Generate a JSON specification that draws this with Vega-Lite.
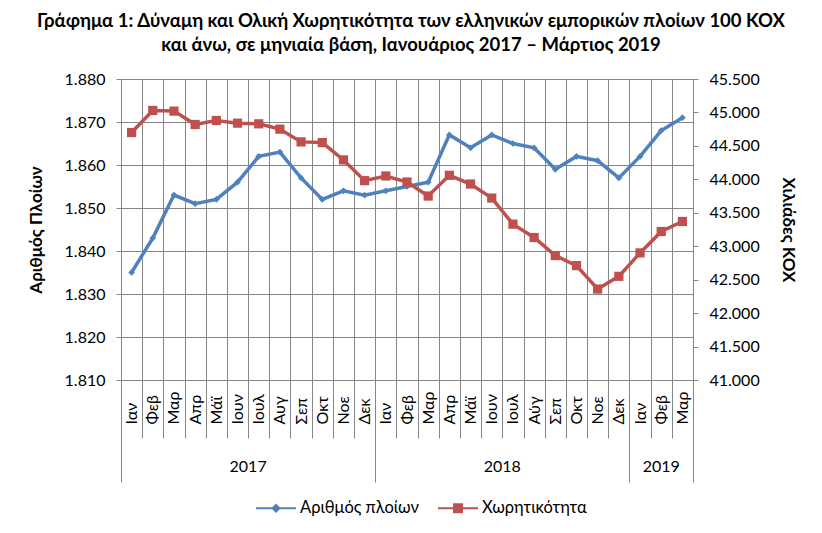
{
  "$schema": "https://vega.github.io/schema/vega-lite/v6.json",
  "width": 572,
  "height": 301,
  "autosize": {"type": "none"},
  "padding": {"left": 121, "top": 79, "right": 129, "bottom": 153},
  "background": "white",
  "title": {
    "text": ["Γράφημα 1: Δύναμη και Ολική Χωρητικότητα των ελληνικών εμπορικών πλοίων 100 ΚΟΧ", "και άνω, σε μηνιαία βάση, Ιανουάριος 2017 – Μάρτιος  2019"],
    "font": "Lato", "fontSize": 18.5, "fontWeight": "bold", "anchor": "middle", "offset": 17, "lineHeight": 24, "color": "black", "dx": 4
  },
  "data": {"values": [
    {"m": "2017 Ιαν", "ships": 1835, "tonnage": 44700},
    {"m": "2017 Φεβ", "ships": 1843, "tonnage": 45030},
    {"m": "2017 Μαρ", "ships": 1853, "tonnage": 45020},
    {"m": "2017 Απρ", "ships": 1851, "tonnage": 44820},
    {"m": "2017 Μάϊ", "ships": 1852, "tonnage": 44880},
    {"m": "2017 Ιουν", "ships": 1856, "tonnage": 44840},
    {"m": "2017 Ιουλ", "ships": 1862, "tonnage": 44830},
    {"m": "2017 Αυγ", "ships": 1863, "tonnage": 44750},
    {"m": "2017 Σεπ", "ships": 1857, "tonnage": 44560},
    {"m": "2017 Οκτ", "ships": 1852, "tonnage": 44550},
    {"m": "2017 Νοε", "ships": 1854, "tonnage": 44290},
    {"m": "2017 Δεκ", "ships": 1853, "tonnage": 43980},
    {"m": "2018 Ιαν", "ships": 1854, "tonnage": 44050},
    {"m": "2018 Φεβ", "ships": 1855, "tonnage": 43960},
    {"m": "2018 Μαρ", "ships": 1856, "tonnage": 43750},
    {"m": "2018 Απρ", "ships": 1867, "tonnage": 44060},
    {"m": "2018 Μάϊ", "ships": 1864, "tonnage": 43930},
    {"m": "2018 Ιουν", "ships": 1867, "tonnage": 43720},
    {"m": "2018 Ιουλ", "ships": 1865, "tonnage": 43330},
    {"m": "2018 Αύγ", "ships": 1864, "tonnage": 43130},
    {"m": "2018 Σεπ", "ships": 1859, "tonnage": 42860},
    {"m": "2018 Οκτ", "ships": 1862, "tonnage": 42710},
    {"m": "2018 Νοε", "ships": 1861, "tonnage": 42360},
    {"m": "2018 Δεκ", "ships": 1857, "tonnage": 42550},
    {"m": "2019 Ιαν", "ships": 1862, "tonnage": 42900},
    {"m": "2019 Φεβ", "ships": 1868, "tonnage": 43220},
    {"m": "2019 Μαρ", "ships": 1871, "tonnage": 43370}
  ]},
  "layer": [
    {
      "mark": {"type": "line", "strokeWidth": 3.5, "point": {"shape": "diamond", "size": 45, "filled": true}},
      "encoding": {
        "x": {"field": "m", "type": "ordinal", "sort": null,
          "scale": {"type": "band", "paddingInner": 0, "paddingOuter": 0},
          "axis": {"orient": "bottom", "title": null, "tickBand": "extent", "tickSize": 58, "tickColor": "#868686",
            "domainColor": "#868686", "grid": true, "gridColor": "#868686", "gridOpacity": 1,
            "labelAngle": 270, "labelAlign": "left", "labelBaseline": "middle", "labelPadding": -14,
            "labelExpr": "split(datum.value, ' ')[1]", "labelFont": "Lato", "labelFontSize": 16,
            "labelColor": "black", "labelOverlap": false, "labelFlush": false}},
        "y": {"field": "ships", "type": "quantitative",
          "scale": {"domain": [1810, 1880], "zero": false, "nice": false},
          "axis": {"orient": "left", "values": [1810, 1820, 1830, 1840, 1850, 1860, 1870, 1880],
            "labelExpr": "replace(format(datum.value, ','), ',', '.')",
            "title": "Αριθμός Πλοίων", "titleFont": "Lato", "titleFontSize": 17, "titleFontWeight": "bold", "titleColor": "black",
            "titlePadding": 19, "labelPadding": 11, "tickSize": 5, "tickColor": "#868686", "domainColor": "#868686",
            "grid": true, "gridColor": "#868686", "gridOpacity": 1, "labelFont": "Lato", "labelFontSize": 16, "labelColor": "black"}},
        "color": {"datum": "Αριθμός πλοίων",
          "scale": {"domain": ["Αριθμός πλοίων", "Χωρητικότητα"], "range": ["#4F81BD", "#C0504D"]},
          "legend": {"orient": "none", "legendX": 134, "legendY": 408, "direction": "horizontal", "title": null, "labelFont": "Lato", "labelFontSize": 16.5,
            "labelColor": "black", "symbolSize": 1600, "symbolStrokeWidth": 2, "columnPadding": 14, "labelOffset": 3,
            "encode": {"symbols": {"update": {
              "shape": {"signal": "datum.value === 'Χωρητικότητα' ? 'M-1,0H1M-0.2,-0.2H0.2V0.2H-0.2Z' : 'M-1,0H1M0,-0.17L0.17,0L0,0.17L-0.17,0Z'"},
              "fill": {"signal": "datum.value === 'Χωρητικότητα' ? '#C0504D' : '#4F81BD'"},
              "stroke": {"signal": "datum.value === 'Χωρητικότητα' ? '#C0504D' : '#4F81BD'"}}}}}}
      }
    },
    {
      "mark": {"type": "line", "strokeWidth": 3.5, "point": {"shape": "square", "size": 85, "filled": true}},
      "encoding": {
        "x": {"field": "m", "type": "ordinal", "sort": null,
          "scale": {"type": "band", "paddingInner": 0, "paddingOuter": 0},
          "axis": {"orient": "bottom", "title": null, "tickBand": "extent",
            "values": ["2017 Ιαν", "2017 Δεκ", "2018 Δεκ", "2019 Μαρ"],
            "tickSize": 102, "tickColor": "#868686",
            "tickOpacity": {"condition": {"test": "datum.value === '2017 Ιαν'", "value": 0}, "value": 1},
            "labels": false, "domain": false, "grid": false}},
        "y": {"field": "tonnage", "type": "quantitative",
          "scale": {"domain": [41000, 45500], "zero": false, "nice": false},
          "axis": {"orient": "right", "values": [41000, 41500, 42000, 42500, 43000, 43500, 44000, 44500, 45000, 45500],
            "labelExpr": "replace(format(datum.value, ','), ',', '.')",
            "title": "Χιλιάδες ΚΟΧ", "titleAngle": 90, "titleFont": "Lato", "titleFontSize": 17, "titleFontWeight": "bold", "titleColor": "black",
            "titlePadding": 19, "labelPadding": 11, "tickSize": 5, "tickColor": "#868686", "domainColor": "#868686",
            "grid": false, "labelFont": "Lato", "labelFontSize": 16, "labelColor": "black"}},
        "color": {"datum": "Χωρητικότητα"}
      }
    },
    {
      "mark": {"type": "line", "opacity": 0},
      "encoding": {
        "x": {"field": "m", "type": "ordinal", "sort": null,
          "scale": {"type": "band", "paddingInner": 0, "paddingOuter": 0},
          "axis": {"orient": "bottom", "title": null, "values": ["2017 Ιουν", "2018 Ιουν", "2019 Φεβ"],
            "ticks": false, "tickSize": 0, "domain": false, "grid": false,
            "labelExpr": "split(datum.value, ' ')[0]",
            "labelOffset": {"condition": {"test": "datum.value === '2019 Φεβ'", "value": 0}, "value": 10.6},
            "labelPadding": 78, "labelAngle": 0, "labelBaseline": "top", "labelFont": "Lato", "labelFontSize": 16,
            "labelColor": "black", "labelOverlap": false, "labelFlush": false}},
        "y": {"field": "ships", "type": "quantitative", "axis": null}
      }
    }
  ],
  "resolve": {"scale": {"y": "independent"}, "axis": {"x": "independent", "y": "independent"}},
  "config": {"view": {"stroke": null}}
}
